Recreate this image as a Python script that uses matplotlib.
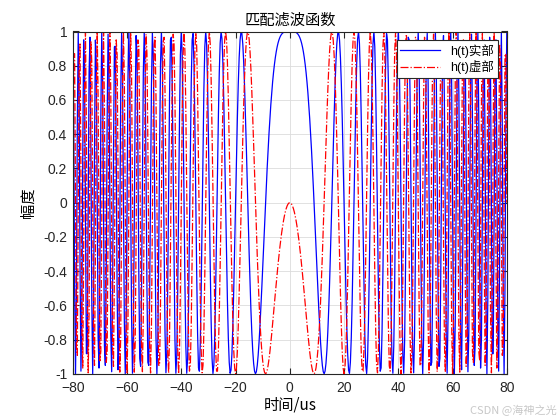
import numpy as np
import matplotlib
matplotlib.use("Agg")
import matplotlib.pyplot as plt

plt.rcParams['font.family'] = ['Liberation Sans', 'Noto Sans CJK SC', 'DejaVu Sans']

# chirp parameters (time in us, frequency in MHz)
pulse_width = 160.0      # us
bandwidth = 1.0          # MHz
fs = 3.0                 # MHz, sample rate
x_ticks = [-80, -60, -40, -20, 0, 20, 40, 60, 80]
y_ticks = [-1, -0.8, -0.6, -0.4, -0.2, 0, 0.2, 0.4, 0.6, 0.8, 1]
labels = ['h(t)实部', 'h(t)虚部']

k = bandwidth / pulse_width
t = np.arange(-pulse_width / 2, pulse_width / 2 + 1e-9, 1 / fs)
h = np.conj(np.exp(1j * np.pi * k * t ** 2))

fig = plt.figure(figsize=(5.6, 4.2), dpi=100)
ax = fig.add_axes([0.13, 0.11, 0.775, 0.815])
ax.plot(t, h.real, color='b', lw=0.9, label=labels[0])
ax.plot(t, h.imag, color='r', lw=0.9, ls='-.', label=labels[1])

ax.set_xlim(-80, 80)
ax.set_ylim(-1, 1)
ax.set_xticks(x_ticks)
ax.set_yticks(y_ticks)
ax.set_yticklabels([f'{v:g}' for v in y_ticks])
ax.tick_params(direction='in', length=4, labelsize=10, top=True, right=True,
               labeltop=False, labelright=False, colors='#262626')
ax.tick_params(axis='x', pad=5)
ax.tick_params(axis='y', pad=4)
ax.grid(True, color='#dcdcdc', lw=0.6)
ax.set_axisbelow(True)
for s in ax.spines.values():
    s.set_color('#262626')
    s.set_linewidth(0.8)

ax.set_title('匹配滤波函数', fontsize=11, family=['Noto Sans CJK SC'], pad=5)
ax.set_xlabel('时间/us', fontsize=11, family=['Noto Sans CJK SC'], labelpad=1)
ax.set_ylabel('幅度', fontsize=11, family=['Noto Sans CJK SC'], labelpad=5)

leg = ax.legend(loc='upper right', fontsize=9, fancybox=False, framealpha=1,
                edgecolor='#262626', borderaxespad=0.7, handlelength=3.2,
                borderpad=0.3, labelspacing=0.2)
leg.get_frame().set_linewidth(0.8)

fig.text(0.995, 0.01, 'CSDN @海神之光', ha='right', va='bottom', fontsize=8,
         color='#c8c8c8', family=['Noto Sans CJK SC'])

fig.savefig('out.png', dpi=100)
